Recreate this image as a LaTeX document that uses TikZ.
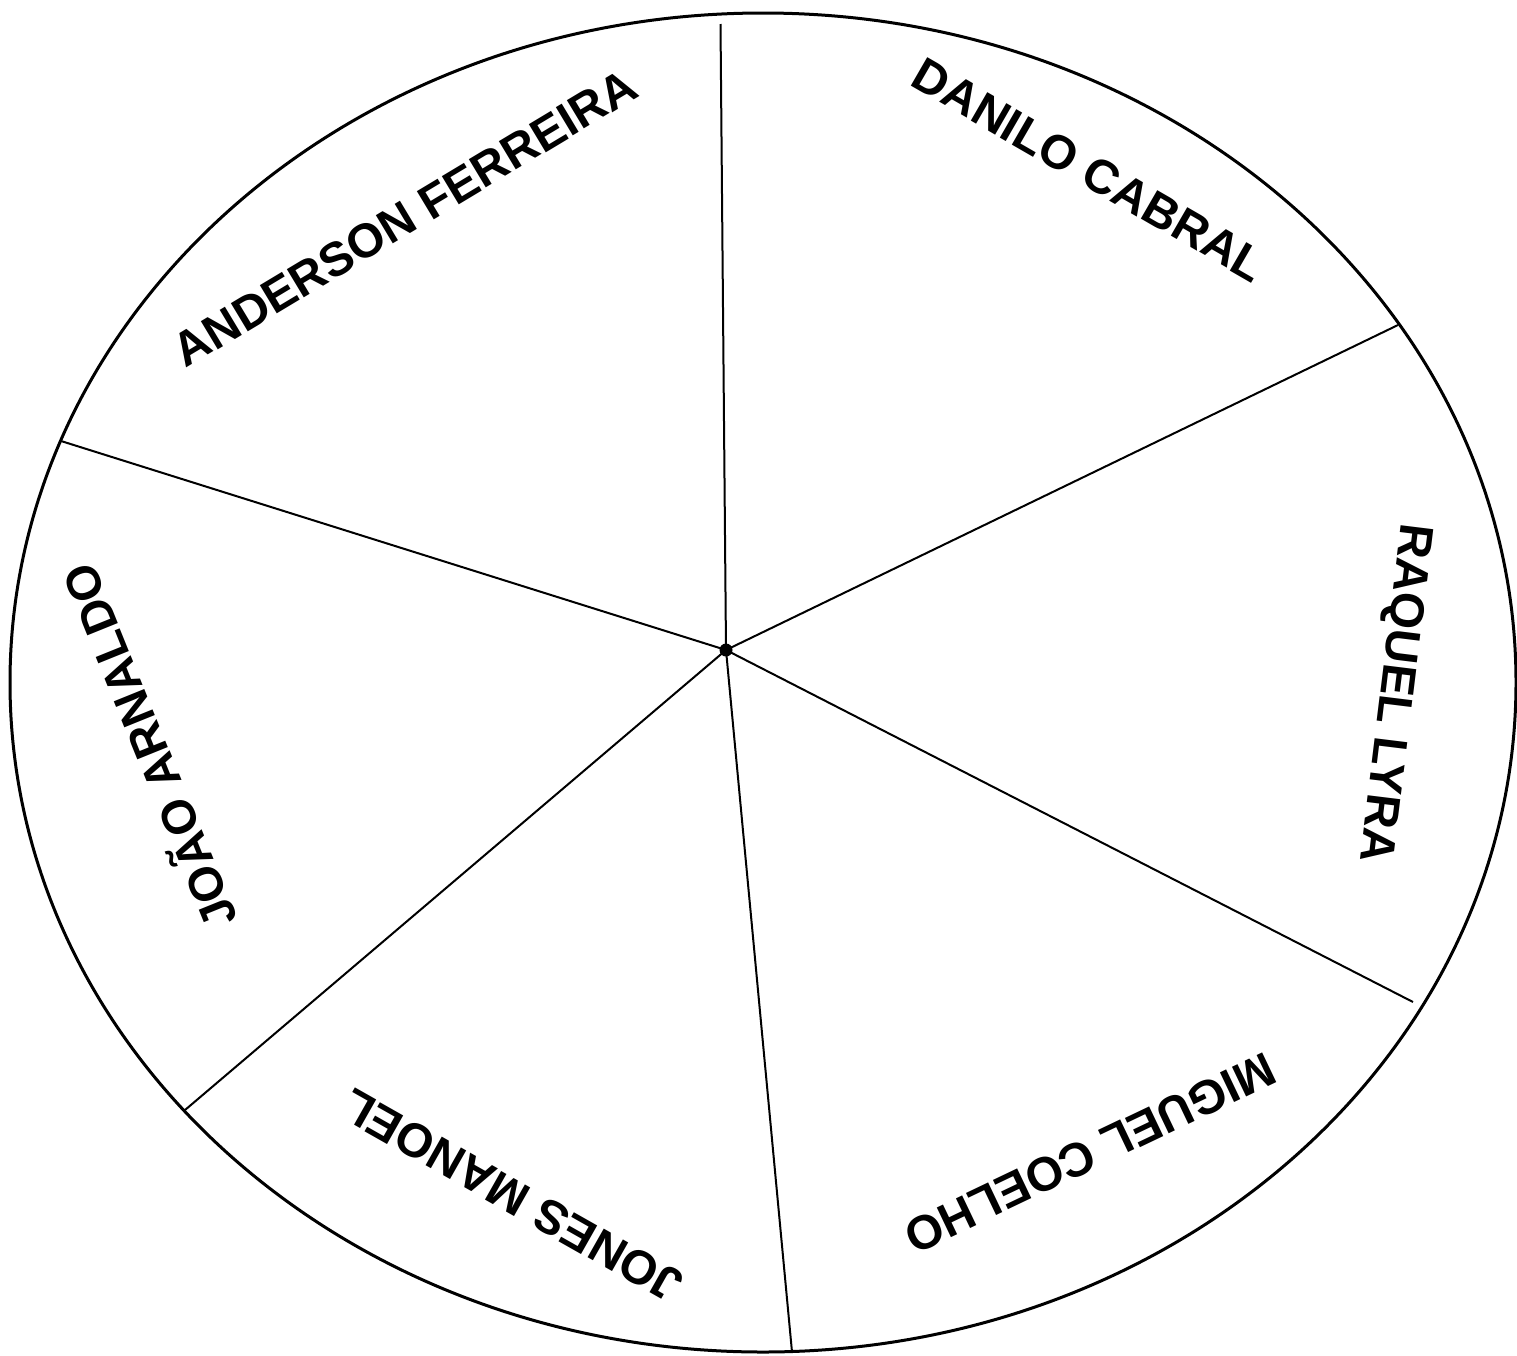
\documentclass[tikz,border=0pt]{standalone}
\usepackage{fontspec}
\setmainfont{Liberation Sans}
\tikzset{
  rim/.style={draw=black, line width=0.3mm},
  spoke/.style={draw=black, line width=0.2mm},
  cand/.style={font=\bfseries\fontsize{13.6}{16}\selectfont, inner sep=0pt}
}

\begin{document}
\begin{tikzpicture}[x=0.1mm, y=-0.1mm]
\useasboundingbox (0,0) rectangle (1517,1355);
\draw[rim] (763,682.5) ellipse [x radius=753, y radius=669.5];
\coordinate (hub) at (726,650);
\coordinate (e1) at (720.5,24);
\coordinate (e2) at (1398,325);
\coordinate (e3) at (1413,1002);
\coordinate (e4) at (792,1352);
\coordinate (e5) at (185,1110);
\coordinate (e6) at (61,441);
\draw[spoke] (hub)--(e1);
\draw[spoke] (hub)--(e2);
\draw[spoke] (hub)--(e3);
\draw[spoke] (hub)--(e4);
\draw[spoke] (hub)--(e5);
\draw[spoke] (hub)--(e6);
\fill (hub) circle [radius=6.5];
\node[cand, rotate=31] (anderson) at (405,218) {ANDERSON FERREIRA};
\node[cand, rotate=-30] (danilo) at (1089,170) {DANILO CABRAL};
\node[cand, rotate=-97] (raquel) at (1393,693) {RAQUEL LYRA};
\node[cand, rotate=-154.5] (miguel) at (1090,1153) {MIGUEL COELHO};
\node[cand, rotate=150.5] (jones) at (512,1196) {JONES MANOEL};
\node[cand, rotate=112] (joao) at (146,748) {JOÃO ARNALDO};
\end{tikzpicture}
\end{document}
